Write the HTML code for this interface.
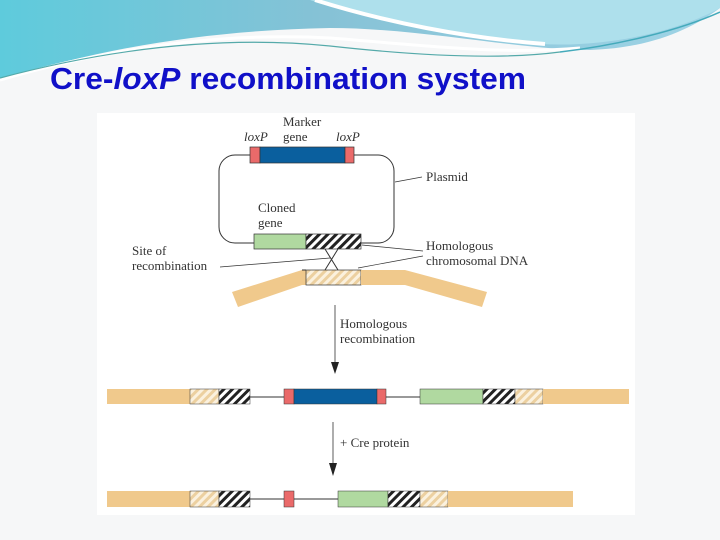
<!DOCTYPE html>
<html><head><meta charset="utf-8"><style>
body{margin:0;width:720px;height:540px;overflow:hidden;background:#f6f7f8;}
svg{display:block}
</style></head><body>
<svg width="720" height="540" viewBox="0 0 720 540" xmlns="http://www.w3.org/2000/svg">
<defs>
<linearGradient id="bg" x1="0" y1="0" x2="1" y2="0">
<stop offset="0" stop-color="#5ecbdc"/><stop offset="0.45" stop-color="#86c2d6"/><stop offset="1" stop-color="#9fd4e6"/>
</linearGradient>
<pattern id="dh" width="6" height="6" patternUnits="userSpaceOnUse" patternTransform="rotate(45)">
<rect width="6" height="6" fill="#fff"/><rect width="3" height="6" fill="#222"/></pattern>
<pattern id="lh" width="6" height="6" patternUnits="userSpaceOnUse" patternTransform="rotate(45)">
<rect width="6" height="6" fill="#fbf1de"/><rect width="3" height="6" fill="#ecd0a0"/></pattern>
</defs>
<rect width="720" height="540" fill="#f6f7f8"/>
<path d="M0 0 H720 V8 C690 30 650 48 590 50 C520 50 420 28 330 28 C220 30 110 45 0 80 Z" fill="url(#bg)"/>
<path d="M310 0 C380 22 460 38 540 44 C610 48 680 30 720 8 V0 Z" fill="#aee0ec"/>
<path d="M315 0 C385 22 465 38 545 44" stroke="#fff" stroke-width="4" fill="none"/>
<path d="M0 80 C110 48 220 32 330 38 C420 45 500 55 580 48" stroke="#fff" stroke-width="3" fill="none"/>
<path d="M0 78 C120 46 230 36 330 46 C420 56 500 60 560 52" stroke="#5aa" stroke-width="1.2" fill="none"/>
<path d="M560 52 C620 45 680 30 720 12" stroke="#4ab" stroke-width="1.5" fill="none"/>
<rect x="97" y="113" width="538" height="402" fill="#fff"/>
<text x="50" y="89" font-family="Liberation Sans, sans-serif" font-size="31" font-weight="bold" fill="#1010c8" textLength="476" lengthAdjust="spacingAndGlyphs">Cre-<tspan font-style="italic">loxP</tspan> recombination system</text>
<g font-family="Liberation Serif, serif" font-size="13" fill="#333">
<rect x="219" y="155" width="175" height="88" rx="16" fill="none" stroke="#333" stroke-width="1"/>
<rect x="250" y="147" width="10" height="16" fill="#ea6a6a" stroke="#333" stroke-width="0.7"/>
<rect x="260" y="147" width="85" height="16" fill="#0a5f9e" stroke="#333" stroke-width="0.7"/>
<rect x="345" y="147" width="9" height="16" fill="#ea6a6a" stroke="#333" stroke-width="0.7"/>
<rect x="254" y="234" width="52" height="15" fill="#b0d9a0" stroke="#333" stroke-width="0.7"/>
<rect x="306" y="234" width="55" height="15" fill="url(#dh)" stroke="#333" stroke-width="0.7"/>
<path d="M232 292 L302 270 L306 270 L306 285 L302 285 L238 307 Z" fill="#f0c98c"/>
<rect x="306" y="270" width="55" height="15" fill="url(#lh)" stroke="#333" stroke-width="0.7"/>
<path d="M361 270 L405 270 L487 292 L482 307 L405 285 L361 285 Z" fill="#f0c98c"/>
<line x1="302" y1="270" x2="306" y2="270" stroke="#333"/>
<path d="M325 249 L338 270 M338 249 L325 270" stroke="#333" stroke-width="1" fill="none"/>
<text x="283" y="126">Marker</text><text x="283" y="141">gene</text>
<text x="244" y="141" font-style="italic">loxP</text><text x="336" y="141" font-style="italic">loxP</text>
<text x="426" y="181">Plasmid</text><line x1="395" y1="182" x2="422" y2="177" stroke="#333" stroke-width="0.7"/>
<text x="258" y="212">Cloned</text><text x="258" y="227">gene</text>
<text x="132" y="255">Site of</text><text x="132" y="270">recombination</text>
<line x1="220" y1="267" x2="330" y2="258" stroke="#333" stroke-width="0.7"/>
<text x="426" y="250">Homologous</text><text x="426" y="265">chromosomal DNA</text>
<line x1="362" y1="245" x2="423" y2="251" stroke="#333" stroke-width="0.7"/>
<line x1="358" y1="268" x2="423" y2="256" stroke="#333" stroke-width="0.7"/>
<line x1="335" y1="305" x2="335" y2="365" stroke="#333" stroke-width="0.8"/>
<path d="M331 362 L339 362 L335 374 Z" fill="#222"/>
<text x="340" y="328">Homologous</text><text x="340" y="343">recombination</text>
<line x1="250" y1="397" x2="420" y2="397" stroke="#333"/>
<rect x="107" y="389" width="83" height="15" fill="#f0c98c"/>
<rect x="190" y="389" width="29" height="15" fill="url(#lh)" stroke="#333" stroke-width="0.5"/>
<rect x="219" y="389" width="31" height="15" fill="url(#dh)" stroke="#333" stroke-width="0.5"/>
<rect x="284" y="389" width="10" height="15" fill="#ea6a6a" stroke="#333" stroke-width="0.5"/>
<rect x="294" y="389" width="83" height="15" fill="#0a5f9e" stroke="#333" stroke-width="0.5"/>
<rect x="377" y="389" width="9" height="15" fill="#ea6a6a" stroke="#333" stroke-width="0.5"/>
<rect x="420" y="389" width="63" height="15" fill="#b0d9a0" stroke="#333" stroke-width="0.5"/>
<rect x="483" y="389" width="32" height="15" fill="url(#dh)" stroke="#333" stroke-width="0.5"/>
<rect x="515" y="389" width="28" height="15" fill="url(#lh)" stroke="#333" stroke-width="0.5"/>
<rect x="543" y="389" width="86" height="15" fill="#f0c98c"/>
<line x1="333" y1="422" x2="333" y2="466" stroke="#333" stroke-width="0.8"/>
<path d="M329 463 L337 463 L333 476 Z" fill="#222"/>
<text x="340" y="447">+ Cre protein</text>
<line x1="250" y1="499" x2="338" y2="499" stroke="#333"/>
<rect x="107" y="491" width="83" height="16" fill="#f0c98c"/>
<rect x="190" y="491" width="29" height="16" fill="url(#lh)" stroke="#333" stroke-width="0.5"/>
<rect x="219" y="491" width="31" height="16" fill="url(#dh)" stroke="#333" stroke-width="0.5"/>
<rect x="284" y="491" width="10" height="16" fill="#ea6a6a" stroke="#333" stroke-width="0.5"/>
<rect x="338" y="491" width="50" height="16" fill="#b0d9a0" stroke="#333" stroke-width="0.5"/>
<rect x="388" y="491" width="32" height="16" fill="url(#dh)" stroke="#333" stroke-width="0.5"/>
<rect x="420" y="491" width="28" height="16" fill="url(#lh)" stroke="#333" stroke-width="0.5"/>
<rect x="448" y="491" width="125" height="16" fill="#f0c98c"/>
</g>
</svg>
</body></html>
